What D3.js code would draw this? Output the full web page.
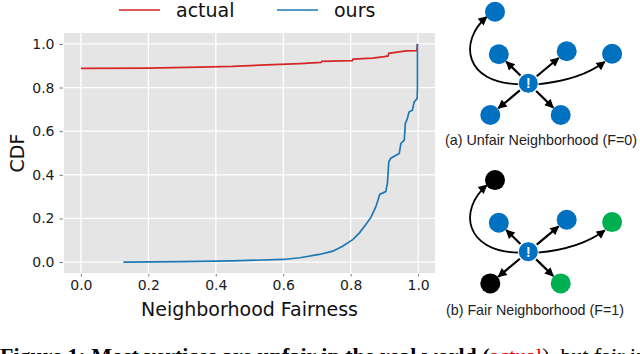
<!DOCTYPE html>
<html>
<head>
<meta charset="utf-8">
<script src="https://cdn.jsdelivr.net/npm/d3@7"></script>
<style>
  body { margin: 0; background: #fff; }
  svg { display: block; }
</style>
</head>
<body>
<div id="canvas"></div>
<script>
// CDF curves
var actualX = [0.0, 0.2, 0.35, 0.45, 0.55, 0.65, 0.712, 0.714, 0.805, 0.807, 0.865, 0.900, 0.911, 0.913, 0.965, 0.996, 0.998];
var actualY = [0.888, 0.889, 0.894, 0.897, 0.904, 0.910, 0.915, 0.920, 0.923, 0.930, 0.935, 0.942, 0.945, 0.957, 0.968, 0.969, 1.0];

var oursX = [0.126, 0.3, 0.45, 0.6, 0.649, 0.707, 0.747, 0.776, 0.806, 0.826, 0.845, 0.860, 0.875, 0.884, 0.886, 0.904, 0.909, 0.913, 0.919, 0.944, 0.949, 0.959, 0.962, 0.968, 0.973, 0.983, 0.988, 0.997, 0.998, 0.998];
var oursY = [0.0, 0.002, 0.006, 0.012, 0.02, 0.035, 0.05, 0.073, 0.103, 0.134, 0.172, 0.205, 0.255, 0.30, 0.31, 0.323, 0.362, 0.46, 0.476, 0.498, 0.544, 0.559, 0.635, 0.658, 0.688, 0.696, 0.733, 0.749, 0.80, 1.0];

var seriesNames = ['actual', 'ours'];
var seriesColors = ['#d62728', '#1f77b4'];
var tickValues = [0.0, 0.2, 0.4, 0.6, 0.8, 1.0];

// neighborhood diagrams: node offsets from the centre vertex and colours
var nodeDx = [-33.3, -29.5, 38.4, 83.8, -38, 32.4];
var nodeDy = [-71.6, -29, -32, -29.6, 31.7, 31.7];
var unfairColors = ['#0070c0', '#0070c0', '#0070c0', '#0070c0', '#0070c0', '#0070c0'];
var fairColors = ['#000000', '#0070c0', '#0070c0', '#00b050', '#000000', '#00b050'];
var diagramLabels = ['(a) Unfair Neighborhood (F=0)', '(b) Fair Neighborhood (F=1)'];

var W = 640, H = 354;
var m = {t:33, r:205, b:81, l:64},
    w = W - m.l - m.r,
    h = H - m.t - m.b;

var svg = d3.select('#canvas')
    .append('svg')
    .attr('width', W)
    .attr('height', H);

var plot = svg.append('g').attr('class','plot')
    .attr('transform','translate('+ m.l+','+ m.t+')');

var x = d3.scaleLinear().domain([-0.05, 1.05]).range([0, w]);
var y = d3.scaleLinear().domain([-0.05, 1.05]).range([h, 0]);

plot.append('rect')
    .attr('width', w).attr('height', h)
    .style('fill', '#e5e5e5');

// grid
plot.selectAll('.gx').data(tickValues).enter().append('line')
    .attr('x1', d => x(d)).attr('x2', d => x(d))
    .attr('y1', 0).attr('y2', h)
    .style('stroke', '#fff').style('stroke-width', 1.3);
plot.selectAll('.gy').data(tickValues).enter().append('line')
    .attr('y1', d => y(d)).attr('y2', d => y(d))
    .attr('x1', 0).attr('x2', w)
    .style('stroke', '#fff').style('stroke-width', 1.3);

// axes
var xAxis = plot.append('g')
    .attr('transform', 'translate(0,' + h + ')')
    .call(d3.axisBottom(x).tickValues(tickValues).tickFormat(d3.format('.1f')).tickSize(3.5).tickPadding(4));
var yAxis = plot.append('g')
    .call(d3.axisLeft(y).tickValues(tickValues).tickFormat(d3.format('.1f')).tickSize(3.5).tickPadding(6));
[xAxis, yAxis].forEach(function(a){
  a.select('.domain').remove();
  a.selectAll('line').style('stroke', '#555').style('stroke-width', 0.8);
  a.selectAll('text')
    .style('font-family', 'DejaVu Sans')
    .style('font-size', '14px')
    .style('fill', '#1a1a1a');
});
xAxis.selectAll('line').attr('y1', 1);
yAxis.selectAll('line').attr('x1', -1).attr('x2', -4.5);

// curves
var line = d3.line().x(d => x(d[0])).y(d => y(d[1]));
var series = [d3.zip(actualX, actualY), d3.zip(oursX, oursY)];
plot.selectAll('.curve').data(series).enter().append('path')
    .attr('class', 'curve')
    .attr('d', line)
    .style('fill', 'none')
    .style('stroke', (d, i) => seriesColors[i])
    .style('stroke-width', 1.7);

// labels
svg.append('text')
    .attr('x', m.l + w/2).attr('y', 316)
    .attr('text-anchor', 'middle')
    .style('font-family', 'DejaVu Sans').style('font-size', '19px').style('fill', '#111')
    .text('Neighborhood Fairness');
svg.append('text')
    .attr('transform', 'translate(24,' + (m.t + h/2) + ') rotate(-90)')
    .attr('text-anchor', 'middle')
    .style('font-family', 'DejaVu Sans').style('font-size', '19px').style('fill', '#111')
    .text('CDF');

// legend
var legX = [119, 277];
var leg = svg.selectAll('.leg').data(seriesNames).enter().append('g')
    .attr('transform', (d, i) => 'translate(' + legX[i] + ',10)');
leg.append('line')
    .attr('x1', 0).attr('x2', 41)
    .style('stroke', (d, i) => seriesColors[i]).style('stroke-width', 1.7);
leg.append('text')
    .attr('x', 57).attr('y', 6.5)
    .style('font-family', 'DejaVu Sans').style('font-size', '19px').style('fill', '#111')
    .text(d => d);

// diagrams
var defs = svg.append('defs');
defs.append('marker')
    .attr('id', 'arrow')
    .attr('viewBox', '0 0 10 10')
    .attr('refX', 9).attr('refY', 5)
    .attr('markerWidth', 10).attr('markerHeight', 9)
    .attr('markerUnits', 'userSpaceOnUse')
    .attr('orient', 'auto')
    .append('path').attr('d', 'M0,0 L10,5 L0,10 z').style('fill', '#000');

var centres = [[528.3, 83.3], [528.3, 251.7]];
var labelY = [145, 315];
var labelW = [192, 178];
var colorSets = [unfairColors, fairColors];
var R = 10;

centres.forEach(function(c, k){
  var g = svg.append('g').attr('transform', 'translate(' + c[0] + ',' + c[1] + ')');
  var nodes = d3.range(nodeDx.length).map(i => ({dx: nodeDx[i], dy: nodeDy[i], color: colorSets[k][i]}));

  // curved arrows to top-left and far-right vertices
  g.append('path')
    .attr('d', 'M-9,1 C-64,0 -70,-42 -41.5,-66.5')
    .style('fill', 'none').style('stroke', '#000').style('stroke-width', 1.8)
    .attr('marker-end', 'url(#arrow)');
  g.append('path')
    .attr('d', 'M9,1 Q52,-3 76.5,-21.5')
    .style('fill', 'none').style('stroke', '#000').style('stroke-width', 1.8)
    .attr('marker-end', 'url(#arrow)');

  // straight arrows
  var near = nodes.filter((d, i) => [1, 2, 4, 5].indexOf(i) >= 0);
  g.selectAll('.arr').data(near).enter().append('line')
    .attr('x1', d => d.dx / Math.hypot(d.dx, d.dy) * (R + 1))
    .attr('y1', d => d.dy / Math.hypot(d.dx, d.dy) * (R + 1))
    .attr('x2', d => d.dx - d.dx / Math.hypot(d.dx, d.dy) * (R + 0.5))
    .attr('y2', d => d.dy - d.dy / Math.hypot(d.dx, d.dy) * (R + 0.5))
    .style('stroke', '#000').style('stroke-width', 2.2)
    .attr('marker-end', 'url(#arrow)');

  g.selectAll('.node').data(nodes).enter().append('circle')
    .attr('cx', d => d.dx).attr('cy', d => d.dy).attr('r', R)
    .style('fill', d => d.color);

  g.append('circle').attr('r', R).style('fill', '#0070c0')
    .style('stroke', '#fff').style('stroke-width', 1);
  g.append('text')
    .attr('y', 5).attr('text-anchor', 'middle')
    .style('font-family', 'Liberation Sans').style('font-weight', 'bold')
    .style('font-size', '14px').style('fill', '#fff')
    .text('!');

  svg.append('text')
    .attr('x', k === 0 ? 445 : 446).attr('y', labelY[k])
    .attr('textLength', labelW[k]).attr('lengthAdjust', 'spacingAndGlyphs')
    .style('font-family', 'Liberation Sans Narrow, Liberation Sans, sans-serif')
    .style('font-size', '15px').style('fill', '#222')
    .text(diagramLabels[k]);
});

// caption, clipped by the bottom of the picture
var cap = svg.append('text')
    .attr('x', 0).attr('y', 363)
    .style('font-family', 'Liberation Serif').style('font-size', '22px').style('fill', '#000');
cap.append('tspan').style('font-weight', 'bold')
    .text('Figure 1: Most vertices are unfair in the real world ');
cap.append('tspan').style('font-weight', 'bold').text('(');
cap.append('tspan').style('fill', '#e00').text('actual');
cap.append('tspan').text('), but fair in ours');
</script>
</body>
</html>
